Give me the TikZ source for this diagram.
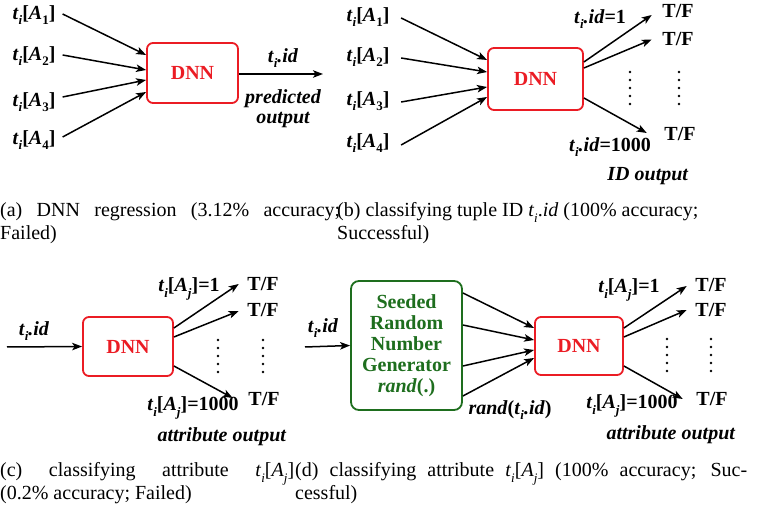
\documentclass[tikz,border=0pt]{standalone}
\usepackage{fontspec}
\setmainfont{Liberation Serif}
\usetikzlibrary{arrows.meta}
\definecolor{dnnred}{RGB}{235,28,36}
\definecolor{rnggreen}{RGB}{30,110,30}
\newcommand{\lowsub}[1]{\raisebox{-0.28em}{\fontsize{13}{13}\selectfont #1}}
\newcommand{\tsub}{\textit{t}\lowsub{\textit{i}}}
\newcommand{\tA}[1]{\tsub[\textit{A}\lowsub{#1}]}
\begin{document}
\begin{tikzpicture}[x=1pt,y=-1pt,
  lbl/.style={font=\bfseries\fontsize{20}{21}\selectfont, inner sep=0pt},
  dnnbox/.style={draw=dnnred, line width=1.8pt, rounded corners=6pt, text=dnnred, font=\bfseries\fontsize{20}{21}\selectfont, inner sep=0pt},
  rngbox/.style={draw=rnggreen, line width=1.8pt, rounded corners=8pt, text=rnggreen, font=\bfseries\fontsize{20}{21}\selectfont, inner sep=0pt, align=center},
  arr/.style={-{Stealth[length=10pt,width=7.5pt,inset=2.5pt]}, line width=1.5pt},
  vdots/.style={line width=2.8pt, line cap=round, dash pattern=on 0pt off 8pt},
  captxt/.style={font=\fontsize{20}{23}\selectfont, inner sep=0pt, anchor=base west}
]
\useasboundingbox (0,0) rectangle (766,510);

% ---------- panel (a)
\node[lbl] (a1) at (34,15) {\tA{1}};
\node[lbl] (a2) at (34,56) {\tA{2}};
\node[lbl] (a3) at (34,102) {\tA{3}};
\node[lbl] (a4) at (34,140) {\tA{4}};
\node[dnnbox, minimum width=91pt, minimum height=60pt] (dnnA) at (192.5,73) {DNN};
\coordinate (outA) at (323,74);
\draw[arr] ([xshift=7pt,yshift=1pt]a1.east) -- ([yshift=18pt]dnnA.west);
\draw[arr] ([xshift=7pt,yshift=1pt]a2.east) -- ([yshift=3pt]dnnA.west);
\draw[arr] ([xshift=7pt,yshift=5pt]a3.east) -- ([yshift=-7pt]dnnA.west);
\draw[arr] ([xshift=7pt,yshift=3pt]a4.east) -- ([yshift=-19pt]dnnA.west);
\draw[arr] ([yshift=-1pt]dnnA.east) -- (outA);
\node[lbl] (idA) at (283,58) {\tsub\textit{.id}};
\node[lbl, align=center, font=\bfseries\itshape\fontsize{20}{20}\selectfont] (predA) at (283,108.5) {predicted\\output};

% ---------- panel (b)
\node[lbl] (b1) at (368,17) {\tA{1}};
\node[lbl] (b2) at (368,57) {\tA{2}};
\node[lbl] (b3) at (368,101) {\tA{3}};
\node[lbl] (b4) at (368,143) {\tA{4}};
\node[dnnbox, minimum width=95pt, minimum height=62pt] (dnnB) at (535.5,79) {DNN};
\draw[arr] ([xshift=11.5pt,yshift=-1pt]b1.east) -- ([yshift=19pt]dnnB.west);
\draw[arr] ([xshift=11.5pt,yshift=-1pt]b2.east) -- ([yshift=7pt]dnnB.west);
\draw[arr] ([xshift=11.5pt,yshift=-1pt]b3.east) -- ([yshift=-8pt]dnnB.west);
\draw[arr] ([xshift=11.5pt,yshift=-2pt]b4.east) -- ([yshift=-18pt]dnnB.west);
\node[lbl] (tfb1) at (678,11) {T/F};
\node[lbl] (tfb2) at (678,39.5) {T/F};
\node[lbl] (tfb3) at (680,134.5) {T/F};
\draw[arr] ([yshift=17pt]dnnB.east) -- ([xshift=-10.5pt,yshift=-4pt]tfb1.west);
\draw[arr] ([yshift=11pt]dnnB.east) -- ([xshift=-10.5pt]tfb2.west);
\draw[arr] ([yshift=-19pt]dnnB.east) -- ([xshift=-17.5pt,yshift=1.5pt]tfb3.west);
\draw[vdots] (630,72) -- (630,105);
\draw[vdots] (679,72) -- (679,105);
\node[lbl] (idb1) at (600,19) {\tsub\textit{.id}=1};
\node[lbl] (idb2) at (610,147) {\tsub\textit{.id}=1000};
\node[lbl] (idout) at (648,176) {\textit{ID output}};

% ---------- panel (c)
\coordinate (cin) at (7,347);
\node[dnnbox, minimum width=90pt, minimum height=59pt] (dnnC) at (128,346.5) {DNN};
\draw[arr] (cin) -- (dnnC.west);
\node[lbl] (idC) at (34,331) {\tsub\textit{.id}};
\node[lbl] (tfc1) at (263,284) {T/F};
\node[lbl] (tfc2) at (263,310) {T/F};
\node[lbl] (tfc3) at (264,399) {T/F};
\draw[arr] ([yshift=18.5pt]dnnC.east) -- ([xshift=-8.5pt]tfc1.west);
\draw[arr] ([yshift=9.5pt]dnnC.east) -- ([xshift=-8.5pt,yshift=-1pt]tfc2.west);
\draw[arr] ([yshift=-19.5pt]dnnC.east) -- ([xshift=-15.5pt,yshift=1pt]tfc3.west);
\draw[vdots] (218,340) -- (218,372);
\draw[vdots] (263,340) -- (263,372);
\node[lbl] (ac1) at (189,289) {\tA{\textit{j}}=1};
\node[lbl] (ac2) at (193,408) {\tA{\textit{j}}=1000};
\node[lbl] (acout) at (222,437) {\textit{attribute output}};

% ---------- panel (d)
\coordinate (din) at (305,347);
\node[rngbox, minimum width=111pt, minimum height=129pt] (rng) at (406.5,345.5) {Seeded\\Random\\Number\\Generator\\\textit{rand}(.)};
\draw[arr] (din) -- (rng.west);
\node[lbl] (idD) at (323,328) {\tsub\textit{.id}};
\node[dnnbox, minimum width=88pt, minimum height=58pt] (dnnD) at (579,346) {DNN};
\draw[arr] ([yshift=52.5pt]rng.east) -- ([yshift=18pt]dnnD.west);
\draw[arr] ([yshift=20.5pt]rng.east) -- ([yshift=6pt]dnnD.west);
\draw[arr] ([yshift=-20.5pt]rng.east) -- ([yshift=-4pt]dnnD.west);
\draw[arr] ([yshift=-50.5pt]rng.east) -- ([yshift=-12pt]dnnD.west);
\node[lbl] (randl) at (510,410) {\textit{rand}(\tsub\textit{.id})};
\node[lbl] (tfd1) at (711,285) {T/F};
\node[lbl] (tfd2) at (711,310) {T/F};
\node[lbl] (tfd3) at (712,399) {T/F};
\draw[arr] ([yshift=18pt]dnnD.east) -- ([xshift=-8.5pt,yshift=-1pt]tfd1.west);
\draw[arr] ([yshift=9pt]dnnD.east) -- ([xshift=-8.5pt]tfd2.west);
\draw[arr] ([yshift=-20pt]dnnD.east) -- ([xshift=-13.5pt]tfd3.west);
\draw[vdots] (667,339) -- (667,371);
\draw[vdots] (711,339) -- (711,371);
\node[lbl] (ad1) at (629,290) {\tA{\textit{j}}=1};
\node[lbl] (ad2) at (632,406) {\tA{\textit{j}}=1000};
\node[lbl] (adout) at (671,435) {\textit{attribute output}};

% ---------- captions
\node[captxt] (capA) at (0,217) {\parbox[t]{340pt}{(a) DNN regression (3.12\% accuracy;\linebreak Failed)}};
\node[captxt] (capB) at (337,217) {\parbox[t]{429pt}{\raggedright (b) classifying tuple ID \tsub.\textit{id} (100\% accuracy;\\Successful)}};
\node[captxt] (capC) at (0,477) {\parbox[t]{294pt}{(c) classifying attribute \tsub[\textit{A}\lowsub{\textit{j}}]\linebreak (0.2\% accuracy; Failed)}};
\node[captxt] (capD) at (295,477) {\parbox[t]{452pt}{(d) classifying attribute \tsub[\textit{A}\lowsub{\textit{j}}] (100\% accuracy; Suc-\linebreak cessful)}};
\end{tikzpicture}
\end{document}
